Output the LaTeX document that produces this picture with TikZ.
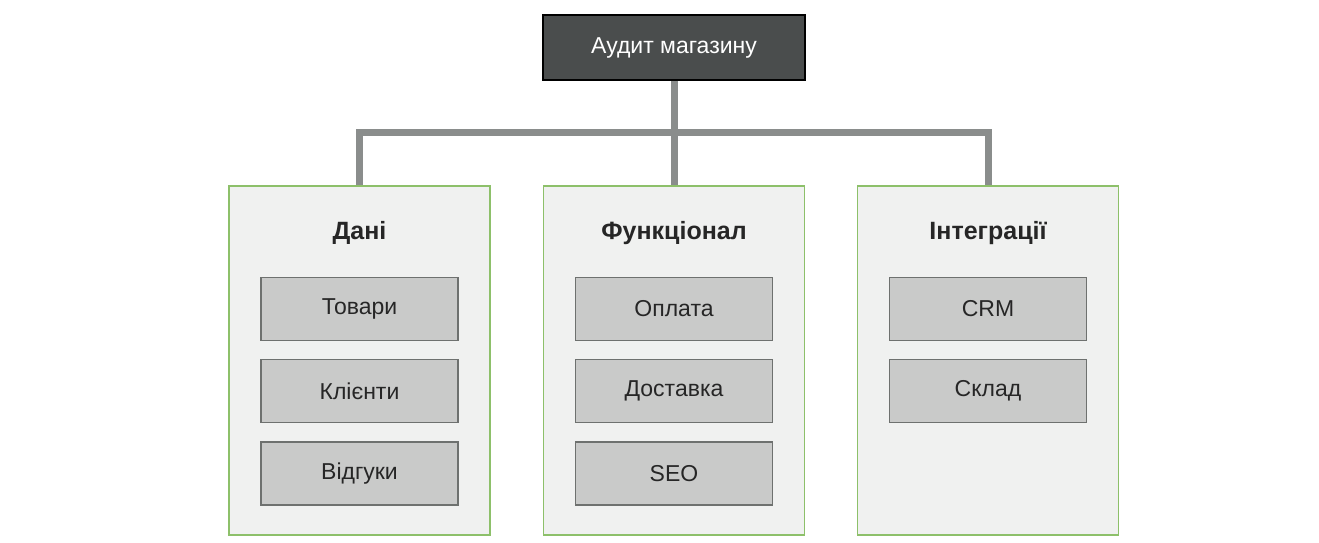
\documentclass[tikz,border=0pt]{standalone}
\usepackage{fontspec}
\setmainfont{Liberation Sans}
\usetikzlibrary{positioning}
\definecolor{topfill}{HTML}{4A4D4D}
\definecolor{panelfill}{HTML}{F0F1F0}
\definecolor{panelline}{HTML}{8DC06A}
\definecolor{itemfill}{HTML}{C9CAC9}
\definecolor{itemline}{HTML}{6E716F}
\definecolor{linkgray}{HTML}{8A8D8C}
\begin{document}
\begin{tikzpicture}[x=1pt, y=-1pt,
        top/.style={rectangle, draw=black, line width=1.5pt, fill=topfill, text=white, minimum width=262pt, minimum height=65pt, font=\fontsize{23}{26}\selectfont},
        panel/.style={rectangle, draw=panelline, line width=1.5pt, fill=panelfill, minimum width=261pt, minimum height=349pt},
        title/.style={font=\fontsize{25}{28}\selectfont\bfseries, text=black!85},
        item/.style={rectangle, draw=itemline, line width=1.2pt, fill=itemfill, minimum width=197pt, minimum height=63pt, font=\fontsize{23}{26}\selectfont, text=black!85},
        link/.style={draw=linkgray, line width=7pt}
        ]
        \useasboundingbox (0,0) rectangle (1319,543);

        \node[top] (audit) at (674,47.5) {Аудит магазину};

        \node[panel] (data) at (359.5,360.5) {};
        \node[panel] (func) at (674,360.5) {};
        \node[panel] (integr) at (988,360.5) {};

        \node[title] (datat) at (359.5,233) {Дані};
        \node[title] (funct) at (674,233) {Функціонал};
        \node[title] (integrt) at (988,233) {Інтеграції};

        % items
        \node[item] (goods) at (359.5,309) {Товари};
        \node[item, below=18pt of goods] (clients) {Клієнти};
        \node[item, below=18pt of clients] (reviews) {Відгуки};
        \node[item] (pay) at (674,309) {Оплата};
        \node[item, below=18pt of pay] (delivery) {Доставка};
        \node[item, below=18pt of delivery] (seo) {SEO};
        \node[item] (crm) at (988,309) {CRM};
        \node[item, below=18pt of crm] (stock) {Склад};

        \coordinate (hub) at (674,132);
        \draw[link] (audit.south) -- (func.north);
        \draw[link] (data.north) |- (hub) -| (integr.north);
    \end{tikzpicture}
\end{document}
